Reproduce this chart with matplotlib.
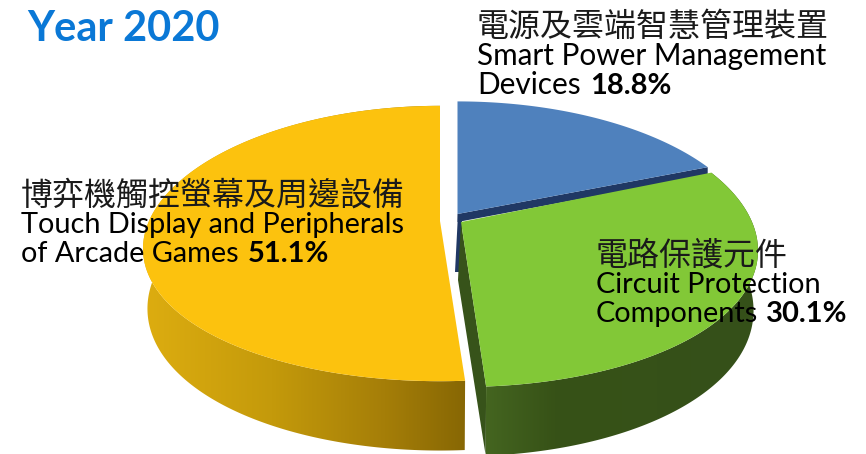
import numpy as np
import matplotlib
matplotlib.use("Agg")
import matplotlib.pyplot as plt
from matplotlib.colors import LinearSegmentedColormap
from matplotlib.patches import Polygon

# ---- data ----
title = "Year 2020"
shares = [18.8, 30.1, 51.1]
names_zh = ["電源及雲端智慧管理裝置", "電路保護元件", "博弈機觸控螢幕及周邊設備"]
names_en = [["Smart Power Management", "Devices"],
            ["Circuit Protection", "Components"],
            ["Touch Display and Peripherals", "of Arcade Games"]]
pct_labels = ["18.8%", "30.1%", "51.1%"]

# ---- styling ----
top_colors = ["#4F81BD", "#82C837", "#FCC20E"]
cut_colors = ["#203864", "#37531A", "#8A6A05"]
wall_stops = [
    [(0, "#203864"), (1, "#203864")],
    [(0, "#446520"), (0.25, "#375217"), (1, "#35501A")],
    [(0, "#DDAD10"), (0.4, "#C49A0B"), (0.75, "#A57E08"), (1, "#876704")],
]
apex_xy = [(457.5, 214), (461, 222), (440, 221)]
radius_y = [131, 138, 134]
RX, KX, KY, DEPTH = 291, 0.2, 0.1635, 58
LOWER_SHRINK = 0.985
CJK = ["Noto Sans CJK TC", "DejaVu Sans"]
LATIN = "Lato"

W, H = 866, 454
fig = plt.figure(figsize=(W / 100, H / 100), dpi=100)
ax = fig.add_axes([0, 0, 1, 1])


def rim(apex, ry, theta, lower=False):
    """Perspective projection of the pie rim at polar angle theta (radians)."""
    u, v = np.cos(theta), np.sin(theta)
    x = RX * u / (1 + KX * v)
    s = 1 + KY * v
    y = apex[1] - ry * v / s
    if lower:
        x = x * LOWER_SHRINK
        y = y + DEPTH / s
    return np.column_stack([apex[0] + x, y])


fractions = np.array(shares) / sum(shares)
edges = np.pi / 2 - 2 * np.pi * np.concatenate([[0], np.cumsum(fractions)])

for i in range(len(shares)):
    apex = apex_xy[i]
    th = np.linspace(edges[i], edges[i + 1], 300)
    top = rim(apex, radius_y[i], th)
    bot = rim(apex, radius_y[i], th, lower=True)
    low_apex = (apex[0] - 3, apex[1] + DEPTH)

    # cut faces seen at the wedge's edges
    if i == 0:
        ax.add_patch(Polygon([apex, top[-1], top[-1] + [0, 8], (apex[0], apex[1] + 8)],
                             fc=cut_colors[0], ec="none", zorder=1))
        ax.add_patch(Polygon([apex, (apex[0] + 4, apex[1]), (apex[0] + 4, low_apex[1]), low_apex],
                             fc=cut_colors[0], ec="none", zorder=1))
    if i == 1:
        ax.add_patch(Polygon([apex, top[-1], bot[-1], low_apex],
                             fc=cut_colors[1], ec="none", zorder=2))

    # outer wall with horizontal shading
    if i > 0:
        wall = Polygon(np.vstack([top, bot[::-1]]), fc="none", ec="none", zorder=2)
        ax.add_patch(wall)
        x0, x1 = min(top[:, 0].min(), bot[:, 0].min()), max(top[:, 0].max(), bot[:, 0].max())
        cmap = LinearSegmentedColormap.from_list(f"w{i}", wall_stops[i])
        grad = np.linspace(0, 1, 256).reshape(1, -1)
        im = ax.imshow(grad, cmap=cmap, extent=(x0, x1, H + 20, 0), aspect="auto", zorder=2)
        im.set_clip_path(wall)

    # top face
    ax.add_patch(Polygon(np.vstack([[apex], top]), fc=top_colors[i], ec="none", zorder=3))

ax.set_xlim(0, W)
ax.set_ylim(H, 0)
ax.axis("off")

# ---- text ----
ax.text(27, 41, title, fontsize=30, fontweight="bold", color="#0A78D6",
        family=LATIN, zorder=5)

ZH = 23.0
BD = 21.0
placements = [
    (477, (36, 65, 94), 590, 21.4),
    (596, (265, 293, 322), 766, 20.8),
    (21, (205, 233, 262), 248, 20.8),
]
for i, (x, ys, bx, en_size) in enumerate(placements):
    ax.text(x, ys[0], names_zh[i], fontsize=ZH, family=CJK, color="#1a1a1a",
            fontweight="light", zorder=5)
    ax.text(x, ys[1], names_en[i][0], fontsize=en_size, family=LATIN, color="black", zorder=5)
    ax.text(x, ys[2], names_en[i][1], fontsize=en_size, family=LATIN, color="black", zorder=5)
    ax.text(bx, ys[2], pct_labels[i], fontsize=BD, family=LATIN, fontweight="bold",
            color="black", zorder=5)

fig.savefig("out.png", dpi=100, facecolor="white")
